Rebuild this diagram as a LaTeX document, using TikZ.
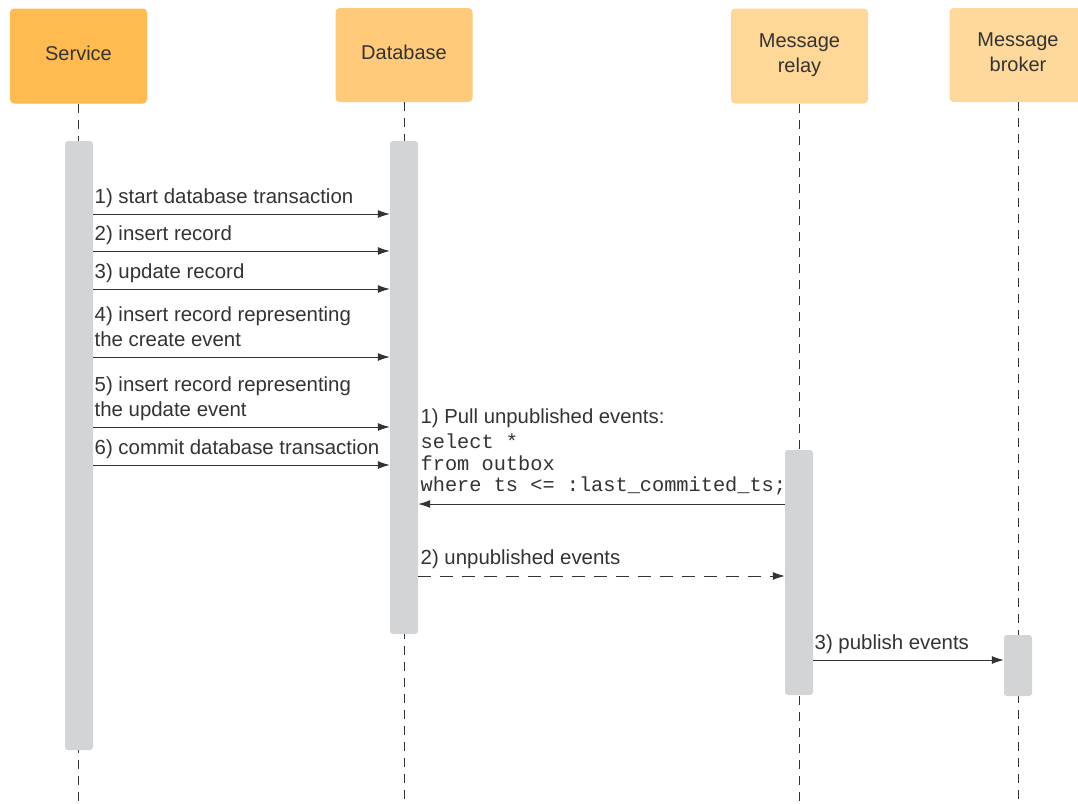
\documentclass[tikz,border=0pt]{standalone}
\usepackage{fontspec}
\setmainfont{Liberation Sans}
\setmonofont{Liberation Mono}
\usetikzlibrary{arrows.meta,positioning}
\definecolor{svcorange}{HTML}{FFBB4F}
\definecolor{dborange}{HTML}{FFCB7B}
\definecolor{relayorange}{HTML}{FFD797}
\definecolor{brokerorange}{HTML}{FFD99C}
\definecolor{bargray}{HTML}{D3D4D6}
\definecolor{inkgray}{HTML}{333333}
\tikzset{
  head/.style={rounded corners=4pt, minimum width=137pt, minimum height=95pt,
    align=center, text=inkgray, text depth=5pt, font=\fontsize{20}{25}\selectfont},
  actbar/.style={fill=bargray, rounded corners=3pt, minimum width=28pt, inner sep=0pt},
  lifeline/.style={draw=inkgray, dash pattern=on 9pt off 7pt, line width=1pt},
  msg/.style={draw=inkgray, line width=1pt, -{Latex[length=12pt,width=8pt]}},
  reply/.style={msg, dash pattern=on 13pt off 9pt},
  lbl/.style={font=\fontsize{20.4}{25}\selectfont, text=inkgray, inner sep=0pt,
    align=left, anchor=south west, text depth=0pt},
}
\begin{document}
\begin{tikzpicture}[x=1pt, y=-1pt]
  \useasboundingbox (0,0) rectangle (1078,803);
  % participants
  \node[head, fill=svcorange] (svc) at (78.5,56) {Service};
  \node[head, fill=dborange, minimum height=94pt] (db) at (404,55) {Database};
  \node[head, fill=relayorange] (relay) at (799.5,56) {Message\\relay};
  \node[head, fill=brokerorange, minimum height=94pt] (broker) at (1018,55) {Message\\broker};
  % lifelines
  \foreach \p in {svc, db, relay, broker}
    \draw[lifeline] (\p.south) -- (\p.south |- 0,803);
  % activations
  \node[actbar, minimum height=609pt] (svcbar) at (79,445.5) {};
  \node[actbar, minimum height=493pt] (dbbar) at (404,387.5) {};
  \node[actbar, minimum height=245pt] (relaybar) at (799,572.5) {};
  \node[actbar, minimum height=61pt] (brokerbar) at (1018,665.5) {};
  % service -> database
  \foreach \y/\txt in {214/{1) start database transaction},
                       251/{2) insert record},
                       289/{3) update record},
                       357/{4) insert record representing\\the create event},
                       427/{5) insert record representing\\the update event},
                       465/{6) commit database transaction}}
    \draw[msg] (svcbar.east |- 0,\y) -- (dbbar.west |- 0,\y)
      node[lbl, pos=0, xshift=1pt, yshift=10pt] {\txt};
  % relay polls the outbox
  \draw[msg] (relaybar.west |- 0,504) -- (dbbar.east |- 0,504)
    node[lbl, pos=1, xshift=2pt, yshift=12pt, font=\fontsize{20.3}{21.5}\selectfont]
      {1) Pull unpublished events:\\[3.5pt]
       \ttfamily select *\\
       \ttfamily from outbox\\
       \ttfamily where ts <= :last\_commited\_ts;};
  \draw[reply] (dbbar.east |- 0,576) -- (relaybar.west |- 0,576)
    node[lbl, pos=0, xshift=2pt, yshift=11pt] {2) unpublished events};
  % relay -> broker
  \draw[msg] (relaybar.east |- 0,660) -- (brokerbar.west |- 0,660)
    node[lbl, pos=0, xshift=1pt, yshift=10pt] {3) publish events};
\end{tikzpicture}
\end{document}
